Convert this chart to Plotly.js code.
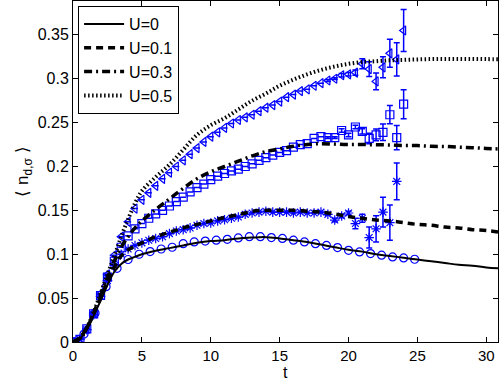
<!DOCTYPE html>
<html><head><meta charset="utf-8">
<script src="https://cdn.plot.ly/plotly-3.0.1.min.js"></script>
<style>html,body{margin:0;padding:0;background:#fff}#plot{width:500px;height:381px}</style>
</head><body><div id="plot"></div>
<script>
// theory curves
const tLine = [0,0.5,1,1.5,2,2.5,3,3.5,4,4.5,5,6,7,8,9,10,11,12,13,14,15,16,17,18,19,20,21,22,23,24,25,26,27,28,29,30,31];
const lineU0  = [0,0.004,0.015,0.03,0.047,0.065,0.08,0.089,0.094,0.097,0.1,0.104,0.107,0.11,0.113,0.115,0.116,0.118,0.119,0.1195,0.118,0.116,0.114,0.111,0.108,0.105,0.103,0.1,0.098,0.096,0.094,0.092,0.09,0.088,0.087,0.085,0.084];
const lineU01 = [0,0.005,0.016,0.032,0.05,0.068,0.085,0.098,0.105,0.109,0.113,0.12,0.125,0.13,0.134,0.138,0.142,0.145,0.149,0.15,0.15,0.15,0.149,0.148,0.146,0.143,0.141,0.139,0.138,0.136,0.134,0.133,0.131,0.13,0.128,0.127,0.125];
const lineU03 = [0,0.004,0.016,0.033,0.053,0.073,0.092,0.108,0.12,0.13,0.138,0.151,0.163,0.175,0.186,0.194,0.2,0.206,0.212,0.217,0.22,0.223,0.225,0.226,0.2255,0.225,0.225,0.2248,0.2245,0.224,0.2238,0.223,0.2228,0.222,0.2215,0.2205,0.22];
const lineU05 = [0,0.004,0.016,0.034,0.055,0.077,0.098,0.12,0.14,0.158,0.172,0.188,0.202,0.219,0.236,0.247,0.255,0.265,0.275,0.283,0.292,0.299,0.305,0.31,0.314,0.317,0.319,0.32,0.321,0.3215,0.322,0.3224,0.3225,0.3225,0.3225,0.3224,0.3222];

// simulation points, U=0 (circles)
const tCirc = [0,0.8,1.6,2.4,3.2,4.0,4.8,5.6,6.4,7.2,8.0,8.8,9.6,10.4,11.2,12.0,12.8,13.6,14.4,15.2,16.0,16.8,17.6,18.4,19.2,20.0,20.8,21.6,22.4,23.2,24.0,24.8];
const circU0 = [0,0.009,0.033,0.063,0.084,0.094,0.1,0.103,0.106,0.108,0.112,0.114,0.115,0.116,0.117,0.1186,0.12,0.12,0.119,0.118,0.116,0.114,0.112,0.11,0.1076,0.1045,0.1026,0.1008,0.099,0.097,0.0958,0.0943];

// simulation points with dt = 0.5
const tSim = [0,0.5,1,1.5,2,2.5,3,3.5,4,4.5,5,5.5,6,6.5,7,7.5,8,8.5,9,9.5,10,10.5,11,11.5,12,12.5,13,13.5,14,14.5,15,15.5,16,16.5,17,17.5,18,18.5,19,19.5,20,20.5,21,21.5,22,22.5,23,23.5,24];
const starU01 = [0,0.003,0.014,0.031,0.052,0.07,0.087,0.1,0.106,0.11,0.113,0.116,0.118,0.12,0.1235,0.1265,0.128,0.13,0.133,0.135,0.1356,0.138,0.1394,0.141,0.1424,0.1455,0.147,0.148,0.149,0.148,0.148,0.148,0.147,0.148,0.147,0.147,0.148,0.1455,0.139,0.1436,0.147,0.135,0.141,0.119,0.129,0.148,0.136,0.183];
const errU01  = [0,0,0,0,0,0,0,0,0,0,0,0,0,0,0,0,0,0,0,0,0,0,0,0,0,0,0,0,0,0,0,0,0,0,0,0,0,0.001,0.002,0.002,0.002,0.006,0.0045,0.012,0.015,0.017,0.02,0.021];
const sqU03 = [0,0.003,0.015,0.032,0.053,0.074,0.092,0.108,0.121,0.129,0.135,0.141,0.146,0.15,0.155,0.16,0.165,0.171,0.176,0.18,0.185,0.189,0.192,0.195,0.197,0.2,0.203,0.207,0.21,0.213,0.216,0.218,0.222,0.225,0.226,0.232,0.234,0.233,0.233,0.241,0.236,0.245,0.24,0.232,0.236,0.239,0.259,0.233,0.271];
const errU03 = [0,0,0,0,0,0,0,0,0,0,0,0,0,0,0,0,0,0,0,0,0,0,0,0,0,0,0,0,0,0,0,0,0,0,0,0,0,0.001,0.001,0.002,0.002,0.002,0.003,0.006,0.0066,0.0095,0.0104,0.0138,0.0165];
const triU05 = [0,0.003,0.015,0.033,0.055,0.077,0.099,0.12,0.137,0.152,0.162,0.17,0.178,0.186,0.193,0.2,0.207,0.214,0.221,0.228,0.234,0.239,0.244,0.249,0.253,0.256,0.259,0.263,0.267,0.27,0.274,0.279,0.282,0.286,0.288,0.292,0.295,0.298,0.3,0.304,0.305,0.307,0.317,0.311,0.297,0.313,0.329,0.322,0.355];
const errU05 = [0,0,0,0,0,0,0,0,0,0,0,0,0,0,0,0,0,0,0,0,0,0,0,0,0,0,0,0,0,0,0,0,0,0,0,0,0,0.001,0.001,0.002,0.002,0.003,0.0057,0.0085,0.0095,0.012,0.016,0.019,0.024];

const legendNames = ['U=0','U=0.1','U=0.3','U=0.5'];
const xTicks = [0,5,10,15,20,25,30];
const yTicks = [0,0.05,0.1,0.15,0.2,0.25,0.3,0.35];
const yTickText = ['0','0.05','0.1','0.15','0.2','0.25','0.3','0.35'];
const xTitle = 't';
const yTitle = '⟨ n<sub>d,σ</sub> ⟩';

const blue = 'rgb(0,0,255)';
function pts(x, y, sym, err) {
  const tr = {x: x, y: y, type: 'scatter', mode: 'markers', showlegend: false,
    marker: {symbol: sym, size: 8, color: blue, line: {color: blue, width: 1.2}}};
  if (err) tr.error_y = {type: 'data', array: err, visible: true, color: blue, thickness: 1.5, width: 3};
  return tr;
}
const data = [
  pts(tCirc, circU0, 'circle-open'),
  pts(tSim, starU01, 'asterisk-open', errU01),
  pts(tSim, sqU03, 'square-open', errU03),
  pts(tSim, triU05, 'triangle-left-open', errU05),
  {x: tLine, y: lineU0, type: 'scatter', mode: 'lines', name: legendNames[0], line: {color: '#000', width: 2, shape: 'spline'}},
  {x: tLine, y: lineU01, type: 'scatter', mode: 'lines', name: legendNames[1], line: {color: '#000', width: 3.5, dash: '7px,5px', shape: 'spline'}},
  {x: tLine, y: lineU03, type: 'scatter', mode: 'lines', name: legendNames[2], line: {color: '#000', width: 3.5, dash: '8px,4px,2px,4px', shape: 'spline'}},
  {x: tLine, y: lineU05, type: 'scatter', mode: 'lines', name: legendNames[3], line: {color: '#000', width: 4, dash: '1.5px,2.5px', shape: 'spline'}}
];
const fontFam = 'Liberation Sans, Arial, sans-serif';
const layout = {
  width: 500, height: 381,
  margin: {l: 73, r: 2, t: 1, b: 39, pad: 0},
  paper_bgcolor: '#fff', plot_bgcolor: '#fff',
  font: {family: fontFam, size: 16, color: '#000'},
  showlegend: true,
  legend: {x: 0.012, y: 0.985, xanchor: 'left', yanchor: 'top', bgcolor: '#fff', bordercolor: '#000', borderwidth: 1,
    font: {family: fontFam, size: 16, color: '#000'}, tracegroupgap: 0, itemwidth: 40},
  xaxis: {range: [0, 30.85], tickvals: xTicks, ticks: 'inside', ticklen: 5, tickcolor: '#000', showgrid: false, zeroline: false,
    showline: true, linecolor: '#000', linewidth: 1, mirror: 'ticks',
    tickfont: {family: fontFam, size: 15}},
  yaxis: {range: [0, 0.3886], tickvals: yTicks, ticktext: yTickText, ticks: 'inside', ticklen: 5, tickcolor: '#000', showgrid: false, zeroline: false,
    showline: true, linecolor: '#000', linewidth: 1, mirror: 'ticks',
    tickfont: {family: fontFam, size: 16}, title: {text: yTitle, font: {family: fontFam, size: 17}, standoff: 4}},
  annotations: [{text: xTitle, xref: 'paper', yref: 'paper', x: 0.5, y: 0, yanchor: 'top', xanchor: 'center',
    yshift: -20, showarrow: false, font: {family: fontFam, size: 16, color: '#000'}}]
};
Plotly.newPlot('plot', data, layout, {staticPlot: true, displayModeBar: false});
</script></body></html>
